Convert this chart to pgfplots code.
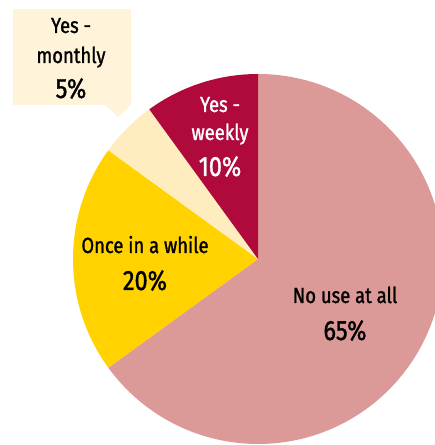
\documentclass[border=0pt]{standalone}
\usepackage{pgfplots}
\usepackage{pgfplotstable}
\pgfplotsset{compat=1.18}
\usepackage{fontspec}
\setmainfont{Fira Sans}[FakeStretch=0.84, FakeBold=1.2]
\definecolor{nouse}{HTML}{DB9A98}
\definecolor{once}{HTML}{FFD200}
\definecolor{monthly}{HTML}{FFECBF}
\definecolor{weekly}{HTML}{B0093B}
\definecolor{boxcream}{HTML}{FFF4DA}
\pgfplotstableread{
value
65
20
5
10
}\piedata
\begin{document}%
\begin{tikzpicture}
\pgfplotstablegetelem{0}{value}\of\piedata \pgfmathsetmacro\vA{\pgfplotsretval}
\pgfplotstablegetelem{1}{value}\of\piedata \pgfmathsetmacro\vB{\pgfplotsretval}
\pgfplotstablegetelem{2}{value}\of\piedata \pgfmathsetmacro\vC{\pgfplotsretval}
\pgfplotstablegetelem{3}{value}\of\piedata \pgfmathsetmacro\vD{\pgfplotsretval}
\pgfmathsetmacro\aA{90-3.6*\vA}
\pgfmathsetmacro\aB{\aA-3.6*\vB}
\pgfmathsetmacro\aC{\aB-3.6*\vC}
\pgfmathsetmacro\aD{\aC-3.6*\vD}
\begin{axis}[
  scale only axis, width=435bp, height=445bp,
  xmin=0, xmax=435, ymin=0, ymax=445,
  hide axis, clip=true,
]
\addplot[draw=none] coordinates {(0,0)};
\coordinate (bl) at (axis cs:0,0);
\coordinate (tr) at (axis cs:435,445);
\begin{scope}
\clip (axis cs:0,0) rectangle (axis cs:435,445);
\fill[nouse] (axis cs:258,186) -- ++(90:185bp) arc[start angle=90, end angle=\aA, radius=185bp] -- cycle;
\fill[once] (axis cs:258,186) -- ++(\aA:185bp) arc[start angle=\aA, end angle=\aB, radius=185bp] -- cycle;
\fill[monthly] (axis cs:258,186) -- ++(\aB:185bp) arc[start angle=\aB, end angle=\aC, radius=185bp] -- cycle;
\fill[weekly] (axis cs:258,186) -- ++(\aC:185bp) arc[start angle=\aC, end angle=\aD, radius=185bp] -- cycle;
\end{scope}
% callout box
\fill[boxcream] (axis cs:13,436) rectangle (axis cs:131,340);
\fill[boxcream] (axis cs:105,340.5) -- (axis cs:118,328) -- (axis cs:131,340.5) -- cycle;
% labels
\tikzset{lab/.style={anchor=base, inner sep=0pt, font=\fontsize{22}{26}\selectfont},
         pct/.style={anchor=base, inner sep=0pt, font=\fontsize{28}{32}\selectfont}}
\node[lab] at (axis cs:71,412) {Yes -};
\node[lab] at (axis cs:71,382) {monthly};
\node[pct] at (axis cs:71,347) {5\%};
\node[lab, text=white] at (axis cs:220,333) {Yes -};
\node[lab, text=white] at (axis cs:220,305) {weekly};
\node[pct, text=white] at (axis cs:220,269) {10\%};
\node[lab] at (axis cs:145,192) {Once in a while};
\node[pct] at (axis cs:145,155) {20\%};
\node[lab] at (axis cs:345,142) {No use at all};
\node[pct] at (axis cs:345,105) {65\%};
\end{axis}
\pgfresetboundingbox
\path (bl) rectangle (tr);
\end{tikzpicture}%
\end{document}
